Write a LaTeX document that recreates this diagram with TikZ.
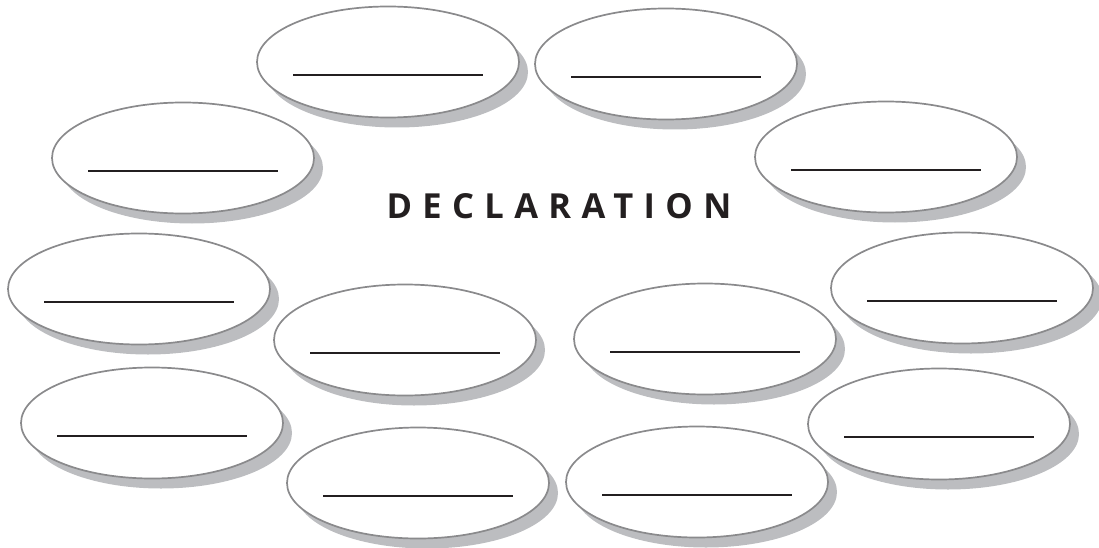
\documentclass[tikz,border=0pt]{standalone}
\usepackage{fontspec}
\setmainfont{Open Sans}
\newfontfamily\titlefont[LetterSpace=30]{Open Sans}
\usetikzlibrary{shapes.geometric,shadows}
\definecolor{rimgray}{HTML}{8A8A8C}
\definecolor{shadegray}{HTML}{BCBDC0}
\definecolor{inkblack}{HTML}{231F20}
\tikzset{
  bubble/.style={ellipse, draw=rimgray, line width=1.7pt, fill=white,
    minimum width=262pt, minimum height=111pt, inner sep=0pt,
    drop shadow={shadow xshift=9pt, shadow yshift=-10pt, fill=shadegray, opacity=1, draw=none}},
  blank/.style={draw=inkblack, line width=2.8pt}
}
\newcommand{\blankline}[1]{\draw[blank] ([xshift=-95pt,yshift=-13pt]#1.center) -- ([xshift=95pt,yshift=-13pt]#1.center);}
\begin{document}
\begin{tikzpicture}[x=1pt,y=-1pt]
\useasboundingbox (0,0) rectangle (1099,548);
\node[bubble] (e1) at (388,62) {};
\node[bubble] (e2) at (666,64) {};
\node[bubble] (e3) at (183,158) {};
\node[bubble] (e4) at (886,157) {};
\node[bubble] (e5) at (139,289) {};
\node[bubble] (e6) at (962,288) {};
\node[bubble] (e7) at (405,340) {};
\node[bubble] (e8) at (705,339) {};
\node[bubble] (e9) at (152,423) {};
\node[bubble] (e10) at (939,424) {};
\node[bubble] (e11) at (418,483) {};
\node[bubble] (e12) at (697,482) {};
\foreach \n in {1,...,12}{\blankline{e\n}}
\node[font=\titlefont\bfseries\fontsize{34.5}{38}\selectfont, text=inkblack, inner sep=0pt] (title) at (559,206) {DECLARATION};
\end{tikzpicture}
\end{document}
